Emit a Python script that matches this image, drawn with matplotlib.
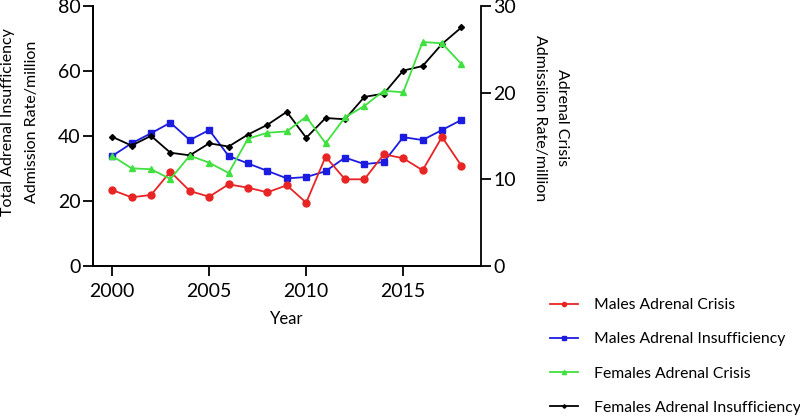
import matplotlib
matplotlib.use("Agg")
import matplotlib.pyplot as plt

plt.rcParams['font.family'] = ['Lato', 'DejaVu Sans']

years = list(range(2000, 2019))

# crisis rates (right axis)
males_crisis = [8.74, 7.90, 8.17, 10.86, 8.63, 7.97, 9.40, 9.01, 8.48, 9.29,
                7.28, 12.59, 9.98, 9.98, 12.87, 12.41, 11.02, 14.87, 11.55]
females_crisis = [12.67, 11.25, 11.14, 10.02, 12.71, 11.90, 10.71, 14.67, 15.36, 15.51,
                  17.21, 14.14, 17.14, 18.45, 20.21, 20.03, 25.84, 25.69, 23.30]

# insufficiency rates (left axis)
males_insuff = [33.8, 37.7, 40.8, 44.05, 38.7, 41.8, 33.8, 31.5, 29.2, 26.9,
                27.3, 29.1, 33.3, 31.3, 31.9, 39.6, 38.7, 41.8, 44.9]
females_insuff = [39.7, 37.0, 40.0, 34.8, 34.0, 37.7, 36.7, 40.4, 43.4, 47.4,
                  39.4, 45.5, 45.1, 52.0, 53.0, 60.1, 61.5, 68.3, 73.4]

left_ticks = [0, 20, 40, 60, 80]
right_ticks = [0, 10, 20, 30]
x_ticks = [2000, 2005, 2010, 2015]

fig = plt.figure(figsize=(8, 4.16), dpi=100)
ax = fig.add_axes([0.116, 0.3613, 0.485, 0.6243])
ax2 = ax.twinx()

red, blue, green = '#e82424', '#1c1ce0', '#40e040'
lw = 1.3

l1, = ax2.plot(years, males_crisis, color=red, marker='o', markersize=5, lw=lw,
               label='Males Adrenal Crisis')
l2, = ax.plot(years, males_insuff, color=blue, marker='s', markersize=5, lw=lw,
              label='Males Adrenal Insufficiency')
l3, = ax2.plot(years, females_crisis, color=green, marker='^', markersize=5, lw=lw,
               label='Females Adrenal Crisis')
l4, = ax.plot(years, females_insuff, color='black', marker='D', markersize=3, lw=lw,
              label='Females Adrenal Insufficiency')

ax.set_xlim(1999, 2019)
ax.set_ylim(0, 80)
ax2.set_ylim(0, 30)
ax.set_xticks(x_ticks)
ax.set_yticks(left_ticks)
ax2.set_yticks(right_ticks)

for a in (ax, ax2):
    a.spines['top'].set_visible(False)
    for s in a.spines.values():
        s.set_linewidth(1.3)
    a.tick_params(width=1.3, length=7.5, labelsize=14, pad=1.5)
ax.tick_params(axis='x', pad=5)
ax.spines['right'].set_visible(False)

ax.set_xlabel('Year', fontsize=12, labelpad=8)

ax.set_ylabel('Total Adrenal Insufficiency\nAdmission Rate/million', fontsize=11.5,
              linespacing=1.85)
ax.yaxis.set_label_coords(-0.188, 0.553)
ax.yaxis.label.set_verticalalignment('center')

ax2.set_ylabel('Adrenal Crisis\nAdmissiion Rate/million', fontsize=11.5,
               rotation=270, linespacing=1.8)
ax2.yaxis.set_label_coords(1.181, 0.569)
ax2.yaxis.label.set_verticalalignment('center')

fig.legend(handles=[l1, l2, l3, l4], loc='upper left',
           bbox_to_anchor=(0.670, 0.317), frameon=False, fontsize=11.3,
           markerscale=0.6, labelspacing=1.29, handlelength=1.78, handletextpad=1.02)

fig.savefig('out.png', dpi=100)
